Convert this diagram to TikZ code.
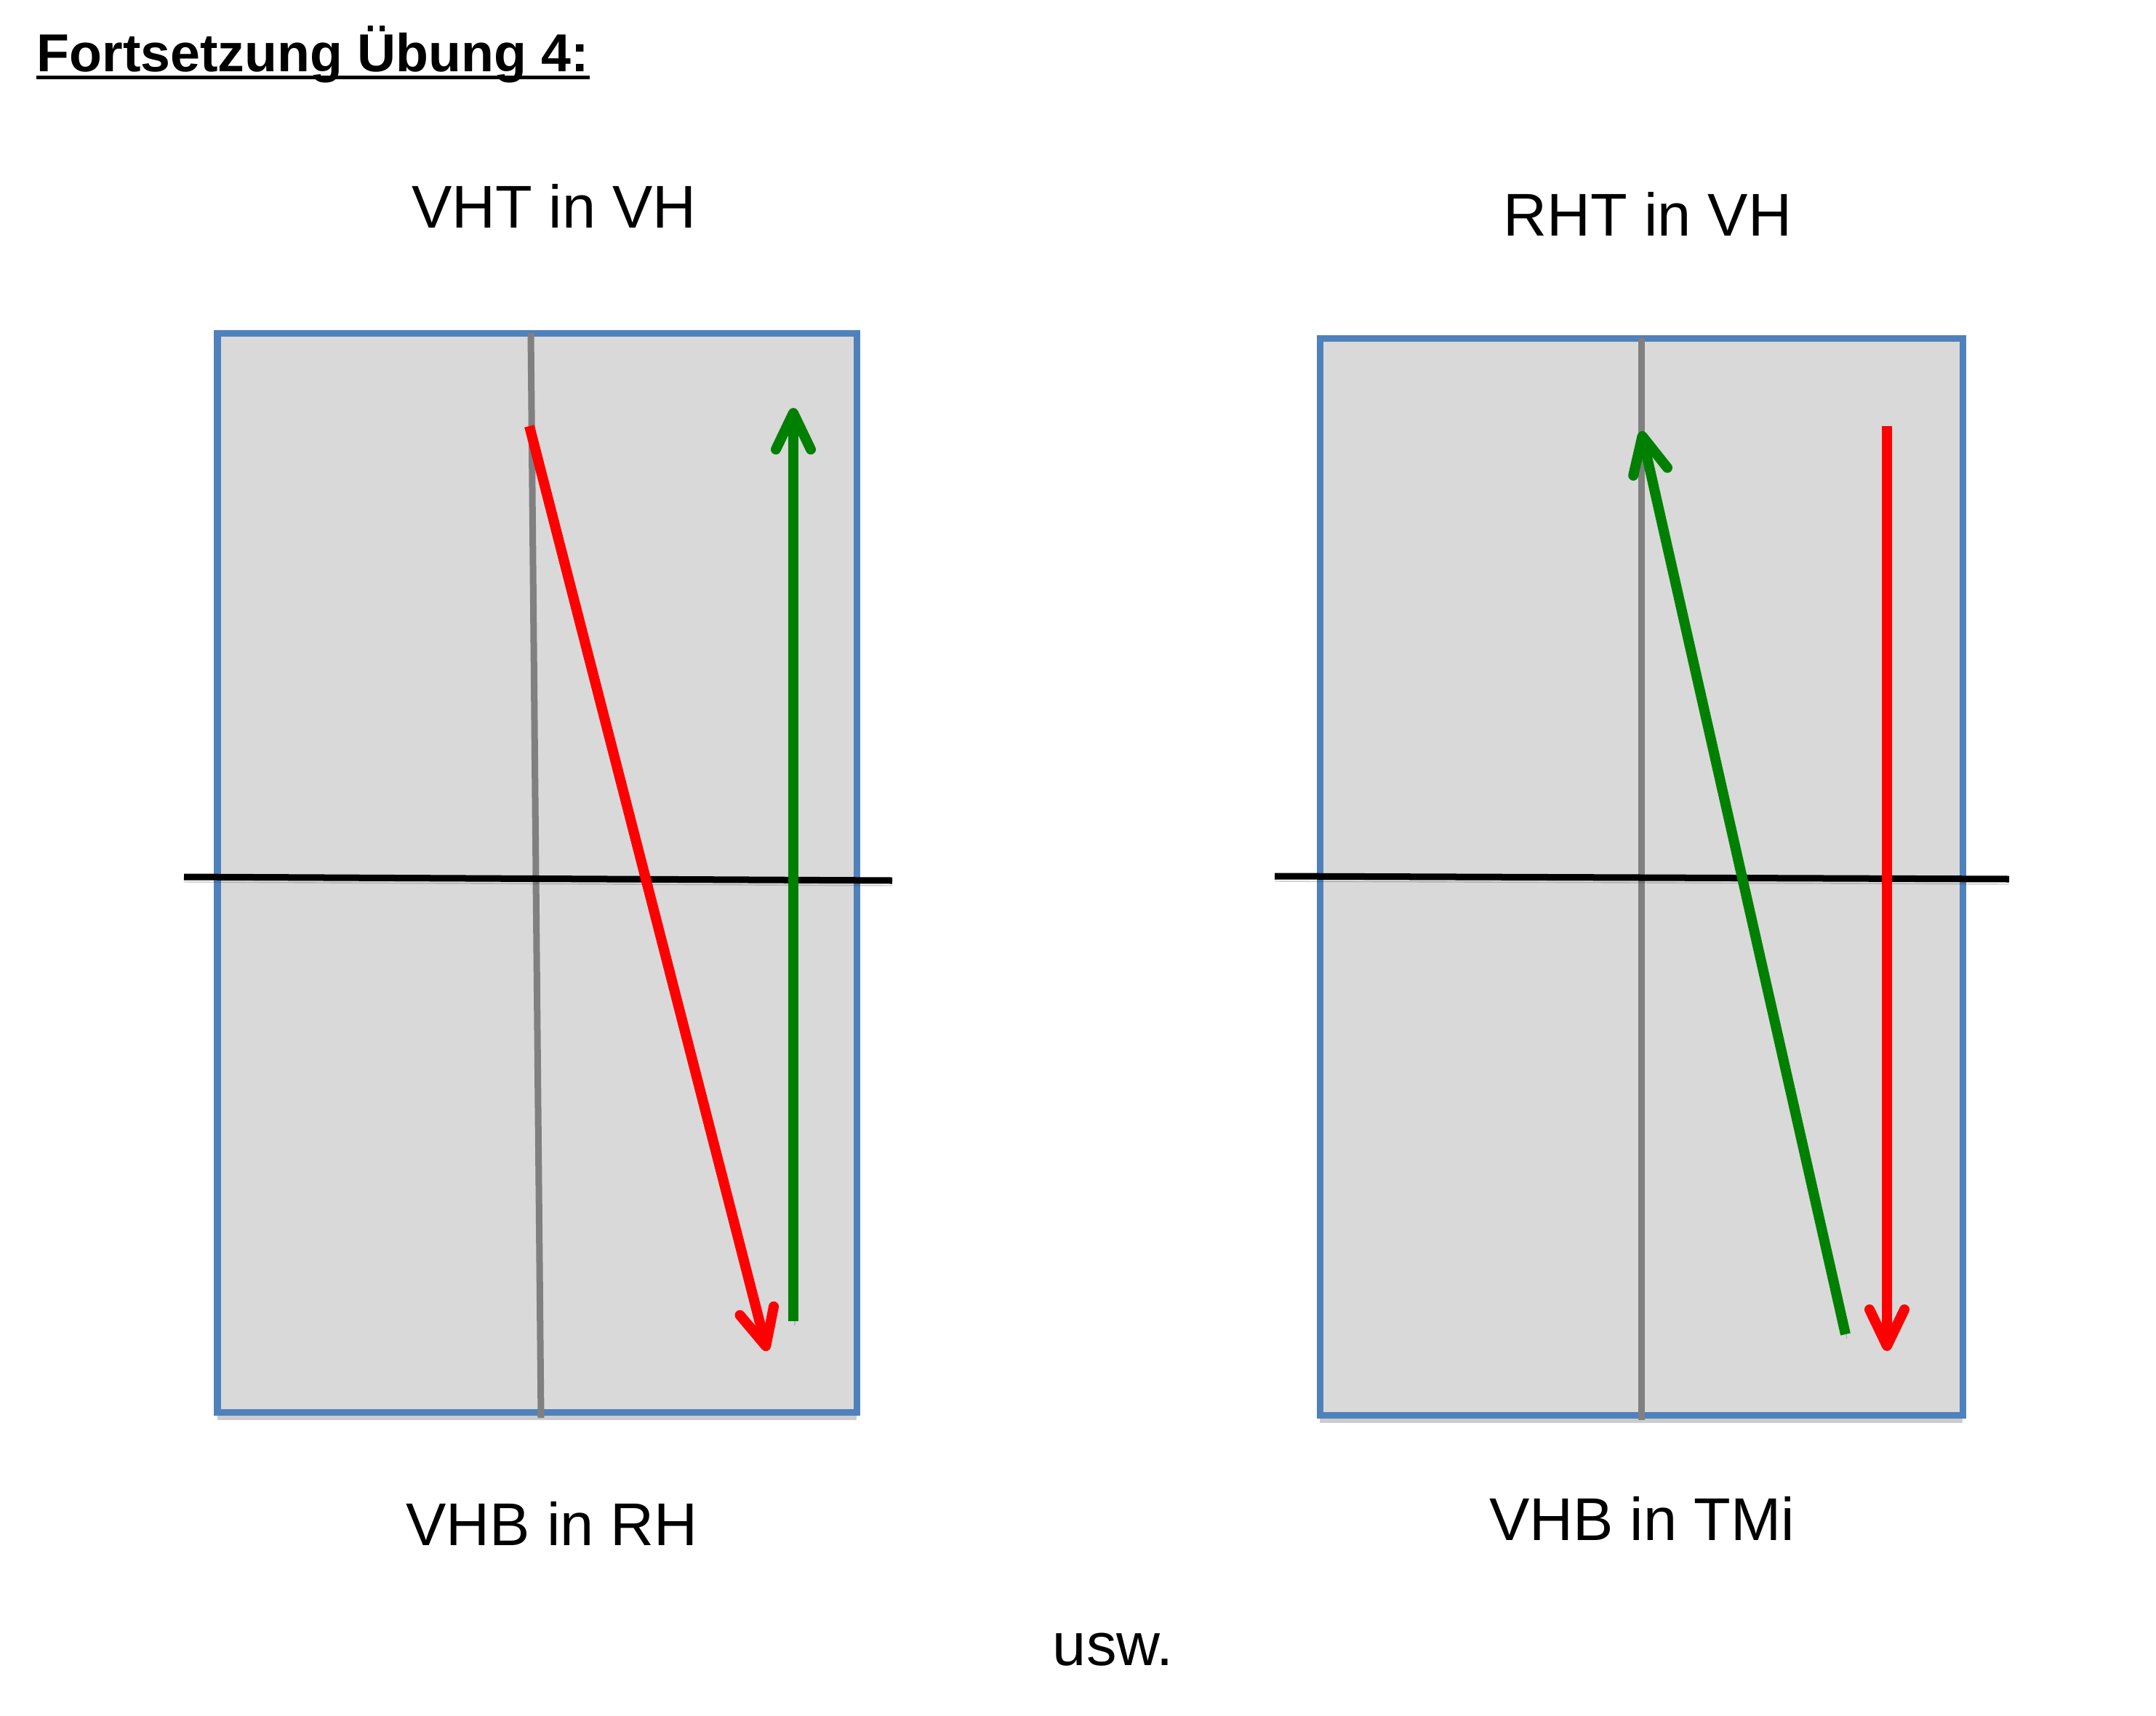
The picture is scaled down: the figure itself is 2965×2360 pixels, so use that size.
\documentclass[tikz,border=0pt]{standalone}
\usepackage{fontspec}
\setmainfont{Liberation Sans}
\usetikzlibrary{arrows.meta}
\definecolor{boxfill}{HTML}{D9D9D9}
\definecolor{boxline}{HTML}{4F81BD}
\definecolor{midgray}{HTML}{808080}
\definecolor{arrgreen}{HTML}{008000}
\definecolor{arrred}{HTML}{FF0000}
\tikzset{
  panel/.style={draw=boxline, fill=boxfill, line width=0.09cm, inner sep=0pt, outer sep=0pt, anchor=north west,
    preaction={fill=black, fill opacity=0.2, transform canvas={shift={(0cm,-0.11cm)}}}},
  axisline/.style={draw=midgray, line width=0.09cm},
  levelline/.style={draw=black, line width=0.09cm,
    preaction={draw=black, draw opacity=0.2, transform canvas={shift={(0cm,-0.07cm)}}}},
  arrowline/.style={line width=0.14cm,
    -{Straight Barb[length=0.5cm, width=0.48cm, round]},
    preaction={draw=black, draw opacity=0.15, transform canvas={shift={(0.02cm,-0.06cm)}}}},
  label/.style={font=\fontsize{23.6}{28}\selectfont, anchor=base, inner sep=0pt},
}
\begin{document}
\begin{tikzpicture}[x=0.01cm, y=-0.01cm]
\useasboundingbox (0,0) rectangle (2965,2360);
% title
\node[anchor=base west, inner sep=0pt, font=\fontsize{20.9}{25}\selectfont\bfseries] (title) at (50,98) {Fortsetzung Übung 4:};
\draw[line width=0.05cm] ([yshift=-2.3pt]title.base west) -- ([yshift=-2.3pt]title.base east);

% left panel
\node[label] (lt) at (762,313) {VHT in VH};
\node[label] (lb) at (759,2125) {VHB in RH};
\node[panel, minimum width=879*0.01cm, minimum height=1484*0.01cm] (lbox) at (299,458) {};
\coordinate (lg1) at (730,458);
\coordinate (lg2) at (744,1950);
\draw[axisline] (lg1) -- (lg2);
\coordinate (lh1) at (253,1206);
\coordinate (lh2) at (1227,1211);
\draw[levelline] (lh1) -- (lh2);
\coordinate (lr1) at (728,586);
\coordinate (lr2) at (1055,1858);
\draw[arrowline, draw=arrred] (lr1) -- (lr2);
\coordinate (lgr1) at (1091,1817);
\coordinate (lgr2) at (1091,561);
\draw[arrowline, draw=arrgreen] (lgr1) -- (lgr2);

% right panel
\node[label] (rt) at (2266,324) {RHT in VH};
\node[label] (rb) at (2258,2118) {VHB in TMi};
\node[panel, minimum width=884*0.01cm, minimum height=1481*0.01cm] (rbox) at (1815,465) {};
\coordinate (rg1) at (2257,465);
\coordinate (rg2) at (2257,1953);
\draw[axisline] (rg1) -- (rg2);
\coordinate (rh1) at (1753,1205);
\coordinate (rh2) at (2763,1209);
\draw[levelline] (rh1) -- (rh2);
\coordinate (rgr1) at (2538,1835);
\coordinate (rgr2) at (2257,593);
\draw[arrowline, draw=arrgreen] (rgr1) -- (rgr2);
\coordinate (rr1) at (2595,586);
\coordinate (rr2) at (2595,1858);
\draw[arrowline, draw=arrred] (rr1) -- (rr2);

\node[label] (usw) at (1531,2290) {usw.};
\end{tikzpicture}
\end{document}
